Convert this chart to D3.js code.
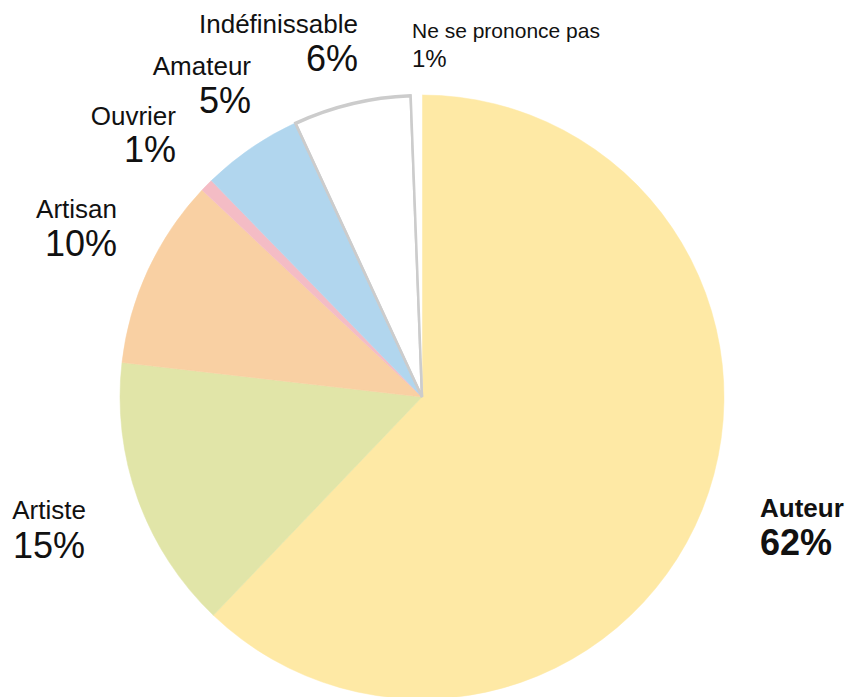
<!DOCTYPE html>
<html>
<head>
<meta charset="utf-8">
<script src="https://cdn.jsdelivr.net/npm/d3@7"></script>
<style>
  body { margin: 0; background: #ffffff; }
  svg { display: block; font-family: "Liberation Sans", Arial, Helvetica, sans-serif; }
</style>
</head>
<body>
<div id="chart"></div>
<script>
var categories = ['Auteur', 'Artiste', 'Artisan', 'Ouvrier', 'Amateur', 'Indéfinissable', 'Ne se prononce pas'];
var values = [62.2, 14.7, 10.2, 0.7, 5.4, 6.3, 0.6];
var pctLabels = ['62%', '15%', '10%', '1%', '5%', '6%', '1%'];

var colors = ['#fee9a5', '#e1e5a8', '#f9d0a3', '#f4bcc5', '#b1d6ee', '#ffffff', '#ffffff'];
var strokes = ['none', 'none', 'none', 'none', 'none', '#cccccc', 'none'];
// label layout: x, anchor, baseline of name, baseline of pct, font sizes, weight
var labelLayout = [
    {x: 760, anchor: 'start', y1: 517, y2: 555, s1: 26, s2: 36, w: 'bold'},
    {x: 49, anchor: 'middle', y1: 519, y2: 558, s1: 26, s2: 36, w: 'normal'},
    {x: 117, anchor: 'end', y1: 218, y2: 256, s1: 26, s2: 36, w: 'normal'},
    {x: 176, anchor: 'end', y1: 125, y2: 162, s1: 26, s2: 36, w: 'normal'},
    {x: 251, anchor: 'end', y1: 75, y2: 113, s1: 26, s2: 36, w: 'normal'},
    {x: 358, anchor: 'end', y1: 33, y2: 71, s1: 26, s2: 36, w: 'normal'},
    {x: 412, anchor: 'start', y1: 38, y2: 67, s1: 21, s2: 24, w: 'normal'}
];

var width = 848, height = 697;
var cx = 422, cy = 397, radius = 302;

var svg = d3.select('#chart').append('svg')
    .attr('width', width)
    .attr('height', height);

var pie = d3.pie().sort(null).value(function(d) { return d; });
var arc = d3.arc().innerRadius(0).outerRadius(radius);
var arcs = pie(values);

var g = svg.append('g').attr('transform', 'translate(' + cx + ',' + cy + ')');

g.selectAll('path.slice')
    .data(arcs)
    .enter().append('path')
    .attr('class', 'slice')
    .attr('d', arc)
    .attr('fill', function(d, i) { return colors[i]; })
    .attr('stroke', function(d, i) { return strokes[i] === 'none' ? colors[i] : strokes[i]; })
    .attr('stroke-width', function(d, i) { return strokes[i] === 'none' ? 0.5 : 2.5; })
    .attr('stroke-linejoin', 'miter');

// indéfinissable stroke drawn on top so neighbours don't cover it
g.selectAll('path.outline')
    .data(arcs.filter(function(d, i) { return strokes[i] !== 'none'; }))
    .enter().append('path')
    .attr('class', 'outline')
    .attr('d', d3.arc().innerRadius(0).outerRadius(radius - 1))
    .attr('fill', 'none')
    .attr('stroke', '#cccccc')
    .attr('stroke-width', 2.5);

var labels = svg.selectAll('g.lbl')
    .data(categories)
    .enter().append('g')
    .attr('class', 'lbl');

labels.append('text')
    .attr('x', function(d, i) { return labelLayout[i].x; })
    .attr('y', function(d, i) { return labelLayout[i].y1; })
    .attr('text-anchor', function(d, i) { return labelLayout[i].anchor; })
    .attr('font-size', function(d, i) { return labelLayout[i].s1; })
    .attr('font-weight', function(d, i) { return labelLayout[i].w; })
    .attr('fill', '#111')
    .text(function(d) { return d; });

labels.append('text')
    .attr('x', function(d, i) { return labelLayout[i].x; })
    .attr('y', function(d, i) { return labelLayout[i].y2; })
    .attr('text-anchor', function(d, i) { return labelLayout[i].anchor; })
    .attr('font-size', function(d, i) { return labelLayout[i].s2; })
    .attr('font-weight', function(d, i) { return labelLayout[i].w; })
    .attr('fill', '#111')
    .text(function(d, i) { return pctLabels[i]; });
</script>
</body>
</html>
